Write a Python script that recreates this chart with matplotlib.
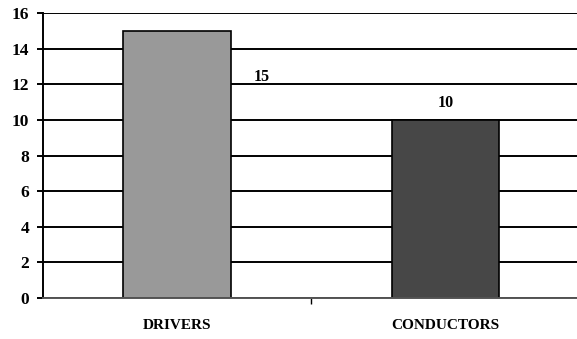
import matplotlib.pyplot as plt

categorias = ["DRIVERS", "CONDUCTORS"]
valores = [15, 10]
cores = ["#999999", "#474747"]

plt.rcParams['font.family'] = ['Liberation Serif', 'DejaVu Serif']
plt.rcParams['font.weight'] = 'bold'

fig = plt.figure(figsize=(5.77, 3.39), dpi=100)
ax = fig.add_axes([0.0745, 0.121, 0.93, 0.8405])

ax.set_axisbelow(True)
ax.yaxis.grid(True, color='black', linewidth=1.4)
ax.bar(range(len(categorias)), valores, width=0.4, color=cores,
       edgecolor='black', linewidth=1.2)

# rótulos dos valores (posição deslocada como no gráfico original)
ax.text(0.315, 12.4, str(valores[0]), ha='center', va='center',
        fontsize=11.5, fontweight='bold')
ax.text(1.0, 10.95, str(valores[1]), ha='center', va='center',
        fontsize=11.5, fontweight='bold')

ax.set_xlim(-0.5, 1.5)
ax.set_ylim(0, 16)
ax.set_yticks(range(0, 17, 2))
ax.set_yticklabels([str(v) for v in range(0, 17, 2)], fontsize=12.5, fontweight='bold')

ax.set_xticks([0.5])
ax.set_xticklabels([''])
ax.tick_params(axis='x', length=4, width=1, color='black')
ax.tick_params(axis='y', length=4, width=1.4, color='black', pad=6)
for i, c in enumerate(categorias):
    ax.text(i, -1.55, c, ha='center', va='center', fontsize=11, fontweight='bold')

for s in ['top', 'right']:
    ax.spines[s].set_visible(False)
ax.spines['left'].set_linewidth(1.4)
ax.spines['bottom'].set_linewidth(1.4)
ax.spines['bottom'].set_color('#555555')

fig.savefig('out.png', dpi=100)
